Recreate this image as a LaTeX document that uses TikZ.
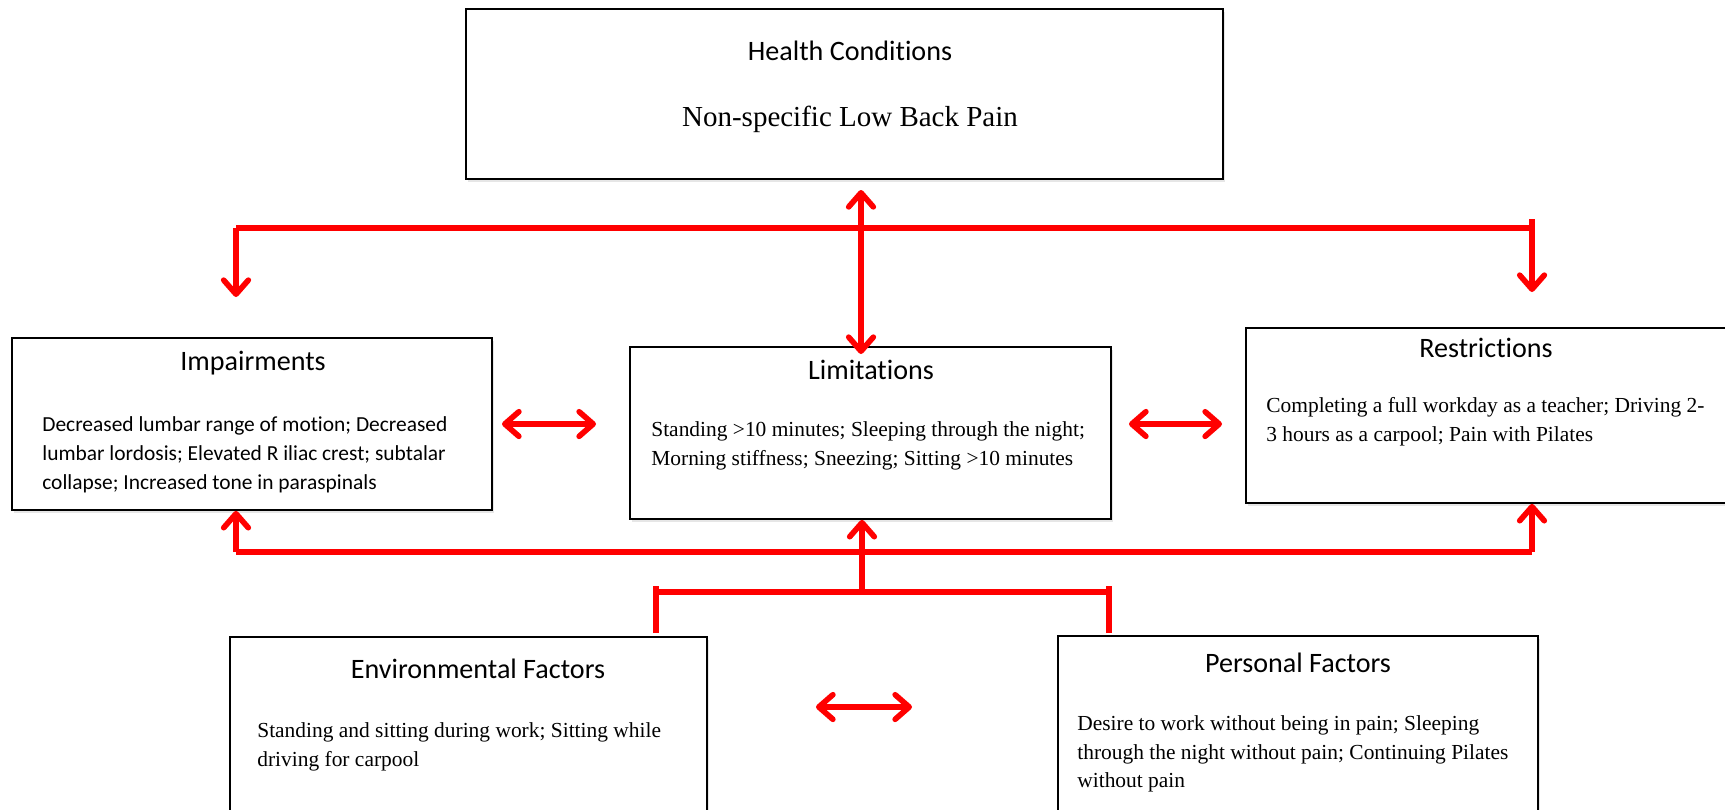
\documentclass[tikz,border=0pt]{standalone}
\usepackage{fontspec}
\setmainfont{Liberation Serif}
\newfontfamily\calibri[Ligatures={NoCommon,NoRare,NoDiscretionary}]{Carlito}
\usepackage{tikz}
\usetikzlibrary{positioning,%
  arrows.meta,%
  shadows
}

\tikzset{
  box/.style={draw, line width=1pt, fill=white, inner sep=0pt,
    drop shadow={opacity=0.2, shadow xshift=1.2pt, shadow yshift=-1.5pt}},
  head/.style={font=\calibri\fontsize{16}{19}\selectfont, inner sep=0pt},
  sansbody/.style={font=\calibri\fontsize{12.2}{16.4}\selectfont, align=left, anchor=west, inner sep=0pt},
  serifbody/.style={font=\fontsize{12.2}{16.4}\selectfont, align=left, anchor=west, inner sep=0pt},
  link/.style={draw=red, line width=3.2pt},
  >={Straight Barb[length=8pt, width=14pt, round]}
}

\begin{document}
\begin{tikzpicture}[x=0.02cm, y=-0.02cm]
  \clip (0,0) rectangle (1725,809);

  \node[box, minimum width=15.14cm, minimum height=3.4cm] (health) at (844.5,94) {};
  \node[box, minimum width=9.6cm, minimum height=3.44cm] (imp) at (252,424) {};
  \node[box, minimum width=9.62cm, minimum height=3.44cm] (lim) at (870.5,433) {};
  \node[box, minimum width=9.62cm, minimum height=3.5cm] (res) at (1486.5,415.5) {};
  \node[box, minimum width=9.54cm, minimum height=3.86cm] (env) at (468.5,733.5) {};
  \node[box, minimum width=9.6cm, minimum height=3.88cm] (pers) at (1298,733) {};

  \node[head] (healthT) at (850,51) {Health Conditions};
  \node[font=\fontsize{16.5}{19}\selectfont, inner sep=0pt] (healthB) at (850,119) {Non-specific Low Back Pain};

  \node[head] (impT) at (253,363) {Impairments};
  \node[sansbody] (impB) at (42,455) {Decreased lumbar range of motion; Decreased\\lumbar lordosis; Elevated R iliac crest; subtalar\\collapse; Increased tone in paraspinals};

  \node[head] (limT) at (871,370) {Limitations};
  \node[serifbody] (limB) at (651,446) {Standing >10 minutes; Sleeping through the night;\\Morning stiffness; Sneezing; Sitting >10 minutes};

  \node[head] (resT) at (1486,348) {Restrictions};
  \node[serifbody] (resB) at (1266,422) {Completing a full workday as a teacher; Driving 2-\\3 hours as a carpool; Pain with Pilates};

  \node[head] (envT) at (478,669) {Environmental Factors};
  \node[serifbody] (envB) at (257,747) {Standing and sitting during work; Sitting while\\driving for carpool};

  \node[head] (persT) at (1298,663) {Personal Factors};
  \node[serifbody] (persB) at (1077,754) {Desire to work without being in pain; Sleeping\\through the night without pain; Continuing Pilates\\without pain};

  \coordinate (topL) at (236,228);
  \coordinate (topR) at (1532,228);
  \coordinate (topTick) at (1532,219);
  \coordinate (impDown) at (236,297);
  \coordinate (resDown) at (1532,292);
  \coordinate (hcDown) at (861,190);
  \coordinate (limUp) at (861,354);
  \draw[link] (topL) -- (topR);
  \draw[link,->] (topL) -- (impDown);
  \draw[link,->] (topTick) -- (resDown);
  \draw[link,<->] (hcDown) -- (limUp);

  \coordinate (botL) at (236,552);
  \coordinate (botR) at (1532,552);
  \draw[link] (botL) -- (botR);
  \draw[link,->] (botL) -- (botL |- imp.south);
  \draw[link,->] (botR) -- (botR |- res.south);

  \coordinate (envUp) at (656,633);
  \coordinate (persUp) at (1109,633);
  \coordinate (bkL) at (656,586);
  \coordinate (bkR) at (1109,586);
  \coordinate (bkM) at (862,592);
  \draw[link] (envUp) -- (bkL);
  \draw[link] (persUp) -- (bkR);
  \draw[link] (bkL |- bkM) -- (bkR |- bkM);
  \draw[link,->] (bkM) -- (bkM |- lim.south);

  \coordinate (ilL) at (502,424);
  \coordinate (ilR) at (596,424);
  \coordinate (lrL) at (1129,424);
  \coordinate (lrR) at (1222,424);
  \coordinate (epL) at (816,707);
  \coordinate (epR) at (912,707);
  \draw[link,<->] (ilL) -- (ilR);
  \draw[link,<->] (lrL) -- (lrR);
  \draw[link,<->] (epL) -- (epR);
\end{tikzpicture}
\end{document}
